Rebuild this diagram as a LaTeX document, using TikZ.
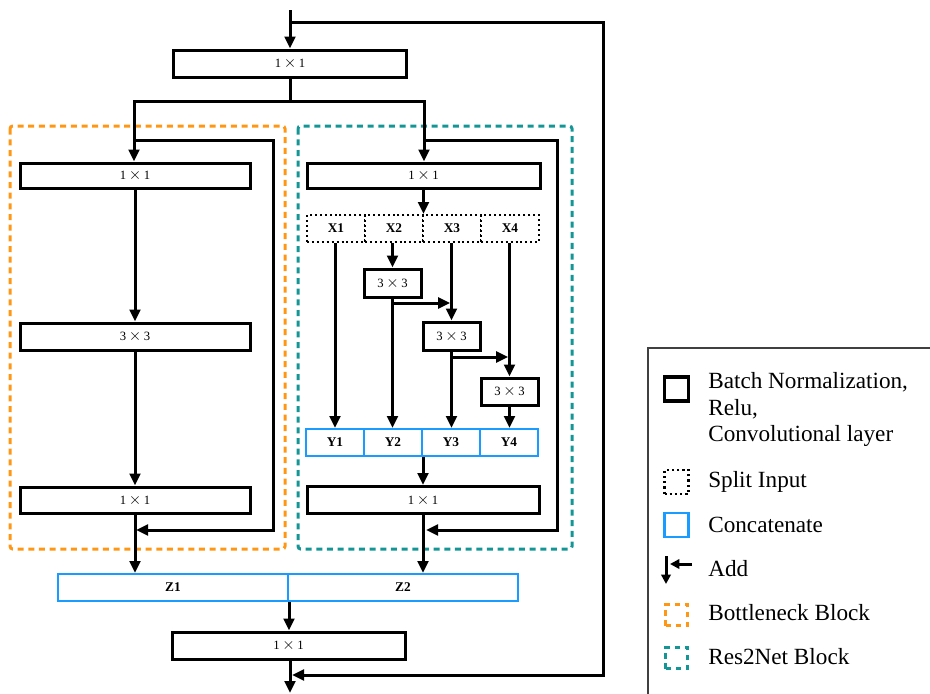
\documentclass[tikz,border=0pt]{standalone}
\usepackage{fontspec}
\setmainfont{Liberation Serif}
\usetikzlibrary{arrows.meta}
\definecolor{borange}{RGB}{255,150,20}
\definecolor{bteal}{RGB}{20,150,150}
\definecolor{cblue}{RGB}{25,155,255}
\newcommand{\kx}[2]{#1\kern2pt{\fontsize{12.5}{12}\selectfont$\times$}\kern2pt#2}
\begin{document}
\begin{tikzpicture}[x=0.75pt,y=-0.75pt,
  ln/.style={line width=2.25pt},
  arr/.style={line width=2.25pt,-{Triangle[length=9pt,width=8pt]}},
  sz/.style 2 args={minimum width=#1*0.75pt, minimum height=#2*0.75pt},
  conv/.style={draw=black, line width=2.25pt, fill=white, inner sep=0pt, font=\fontsize{9.5}{12}\selectfont},
  splitc/.style={draw=black, line width=1.5pt, dash pattern=on 1.5pt off 2.2pt, fill=white, inner sep=0pt, font=\fontsize{10}{12}\selectfont\bfseries},
  catc/.style={draw=cblue, line width=1.5pt, fill=white, inner sep=0pt, font=\fontsize{10}{12}\selectfont\bfseries},
  obox/.style={draw=borange, line width=2.25pt, dash pattern=on 4.5pt off 3.5pt, rounded corners=2pt},
  tbox/.style={draw=bteal, line width=2.25pt, dash pattern=on 4.5pt off 3.5pt, rounded corners=2pt},
  lgsq/.style={minimum width=18pt, minimum height=18pt, inner sep=0pt},
  lgtxt/.style={anchor=west, inner sep=0pt, font=\fontsize{17.4}{20}\selectfont, align=left}
]
\useasboundingbox (0,0) rectangle (930,693);
\clip (0,0) rectangle (930,693);

% block frames
\draw[obox] (10,126) rectangle (285,549);
\draw[tbox] (298,126) rectangle (572,549);

% nodes
\node[conv, sz={233}{27}] (top) at (290,63.5) {\kx11};
\node[conv, sz={230}{25}] (L1) at (135,175.5) {\kx11};
\node[conv, sz={230}{27}] (L2) at (135,336.5) {\kx33};
\node[conv, sz={230}{26}] (L3) at (135,500) {\kx11};
\node[conv, sz={233}{25}] (R1) at (423.5,175.5) {\kx11};

\node[splitc, sz={58}{27}] (X1) at (336,228.5) {X1};
\node[splitc, sz={58}{27}] (X2) at (394,228.5) {X2};
\node[splitc, sz={58}{27}] (X3) at (452,228.5) {X3};
\node[splitc, sz={58}{27}] (X4) at (510,228.5) {X4};

\node[conv, sz={57}{28}] (C1) at (392.5,283) {\kx33};
\node[conv, sz={57}{28}] (C2) at (451.5,336) {\kx33};
\node[conv, sz={57}{27}] (C3) at (509.5,391.5) {\kx33};

\node[catc, sz={58}{27}] (Y1) at (335,442.5) {Y1};
\node[catc, sz={58}{27}] (Y2) at (393,442.5) {Y2};
\node[catc, sz={58}{27}] (Y3) at (451,442.5) {Y3};
\node[catc, sz={58}{27}] (Y4) at (509,442.5) {Y4};

\node[conv, sz={232}{27}] (R3) at (423,500) {\kx11};

\node[catc, sz={230}{27}] (Z1) at (173,587.5) {Z1};
\node[catc, sz={230}{27}] (Z2) at (403,587.5) {Z2};

\node[conv, sz={233}{27}] (B) at (288.5,645.5) {\kx11};

% coordinates
\coordinate (in) at (290,10);
\coordinate (s1) at (290,22);
\coordinate (sR) at (603,675);
\coordinate (addB) at (292,675);
\coordinate (out) at (290,693);
\coordinate (br) at (290,101);
\coordinate (lsk) at (134,140);
\coordinate (lskc) at (273,530);
\coordinate (ladd) at (136,530);
\coordinate (rsk) at (424,140);
\coordinate (rskc) at (557,530);
\coordinate (radd) at (426,530);
\coordinate (b1) at (393,303);
\coordinate (b2) at (451,357);

% connectors
\draw[arr] (in) -- (in |- top.north);
\draw[arr] (s1) -| (sR) -- (addB);
\draw[ln] (top.south) -- (br);
\draw[arr] (br) -| (lsk |- L1.north);
\draw[arr] (br) -| (rsk |- R1.north);
\draw[arr] (lsk) -| (lskc) -- (ladd);
\draw[arr] (rsk) -| (rskc) -- (radd);
\draw[arr] (L1.south) -- (L2.north);
\draw[arr] (L2.south) -- (L3.north);
\draw[arr] (L3.south) -- (L3.south |- Z1.north);
\draw[arr] (R1.south) -- (R1.south |- X2.north);
\draw[arr] (X1.south -| Y1.north) -- (Y1.north);
\draw[arr] (X2.south -| C1.north) -- (C1.north);
\draw[arr] (X3.south -| C2.north) -- (C2.north);
\draw[arr] (X4.south -| C3.north) -- (C3.north);
\draw[arr] (C1.south) -- (C1.south |- Y2.north);
\draw[arr] (C2.south) -- (C2.south |- Y3.north);
\draw[arr] (C3.south) -- (C3.south |- Y4.north);
\draw[arr,shorten >=1pt] (b1) -- (b1 -| C2.north);
\draw[arr,shorten >=1pt] (b2) -- (b2 -| C3.north);
\draw[arr] (Y2.south east) -- (Y2.south east |- R3.north);
\draw[arr] (R3.south) -- (R3.south |- Z2.north);
\draw[arr] (Z1.south east) -- (Z1.south east |- B.north);
\draw[arr] (B.south -| out) -- (out);

% legend
\draw[line width=1pt, black!75] (648,348) rectangle (940,700);
\node[lgsq, draw=black, line width=2.5pt] (lg1) at (676.5,389) {};
\node[lgsq, draw=black, line width=1.7pt, dash pattern=on 1.7pt off 2.2pt] (lg2) at (676.5,482) {};
\node[lgsq, draw=cblue, line width=2.2pt] (lg3) at (676.5,525) {};
\coordinate (ad1) at (666,556);
\coordinate (ad2) at (666,584);
\coordinate (ad3) at (692,564);
\coordinate (ad4) at (670,564);
\draw[line width=2.25pt,-{Triangle[length=7pt,width=7pt]}] (ad1) -- (ad2);
\draw[line width=2.25pt,-{Triangle[length=7pt,width=7pt]}] (ad3) -- (ad4);
\node[lgsq, minimum width=16pt, minimum height=16pt, draw=borange, line width=2.25pt, dash pattern=on 4pt off 3.5pt] (lg5) at (676.5,615) {};
\node[lgsq, minimum width=16pt, minimum height=16pt, draw=bteal, line width=2.25pt, dash pattern=on 4pt off 3.5pt] (lg6) at (676.5,658) {};
\node[lgtxt] (t1) at (708,409.5) {Batch Normalization,\\Relu,\\Convolutional layer};
\node[lgtxt] (t2) at (708,482) {Split Input};
\node[lgtxt] (t3) at (708,525) {Concatenate};
\node[lgtxt] (t4) at (708,569) {Add};
\node[lgtxt] (t5) at (708,613) {Bottleneck Block};
\node[lgtxt] (t6) at (708,657) {Res2Net Block};
\end{tikzpicture}
\end{document}
